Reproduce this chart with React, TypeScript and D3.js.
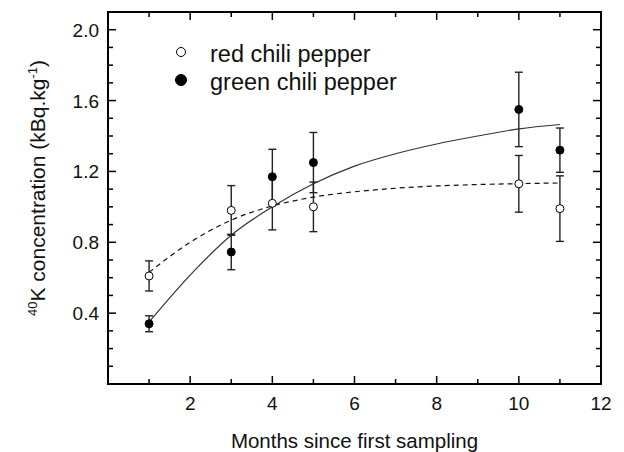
import { useEffect, useRef } from 'react'
import * as d3 from 'd3'

// months where samples were taken
const months = [1, 3, 4, 5, 10, 11]
const redValues = [0.61, 0.98, 1.02, 1.0, 1.13, 0.99]
const redErrors = [0.085, 0.14, 0.15, 0.14, 0.16, 0.185]
const greenValues = [0.34, 0.745, 1.17, 1.25, 1.55, 1.32]
const greenErrors = [0.045, 0.1, 0.155, 0.17, 0.21, 0.125]

// fitted curves
const fitMonths = [1, 2, 3, 4, 5, 6, 7, 8, 9, 10, 11]
const redFit = [0.63, 0.8, 0.925, 1.005, 1.055, 1.085, 1.105, 1.118, 1.126, 1.131, 1.135]
const greenFit = [0.35, 0.615, 0.84, 1.0, 1.13, 1.23, 1.3, 1.355, 1.4, 1.44, 1.465]

const xTicks = [2, 4, 6, 8, 10, 12]
const yTicks = [0.4, 0.8, 1.2, 1.6, 2.0]

const FONT = "'Liberation Sans', Arial, Helvetica, sans-serif"

export default function App() {
  const ref = useRef<SVGSVGElement>(null)

  useEffect(() => {
    const W = 624, H = 452
    const margin = { top: 12, right: 23, bottom: 68, left: 108 }
    const width = W - margin.left - margin.right
    const height = H - margin.top - margin.bottom

    const root = d3.select(ref.current)
    root.selectAll('*').remove()

    const svg = root.append('g').attr('transform', `translate(${margin.left},${margin.top})`)

    const x = d3.scaleLinear().domain([0, 12]).range([0, width])
    const y = d3.scaleLinear().domain([0, 2.1]).range([height, 0])

    const minorX = d3.range(1, 12, 2)
    const minorY = d3.range(1, 21).map(d => d / 10).filter(d => !yTicks.some(t => Math.abs(t - d) < 1e-6))

    // ticks on all four sides, pointing inward
    const tickG = svg.append('g').attr('stroke', '#000').attr('stroke-width', 1.5)
    const xt = [...xTicks.filter(d => d < 12).map(d => ({ v: d, len: 8 })), ...minorX.map(d => ({ v: d, len: 5 }))]
    xt.forEach(t => {
      tickG.append('line').attr('x1', x(t.v)).attr('x2', x(t.v)).attr('y1', height).attr('y2', height - t.len)
      tickG.append('line').attr('x1', x(t.v)).attr('x2', x(t.v)).attr('y1', 0).attr('y2', t.len)
    })
    const yt = [...yTicks.map(d => ({ v: d, len: 8 })), ...minorY.map(d => ({ v: d, len: 5 }))]
    yt.forEach(t => {
      tickG.append('line').attr('x1', 0).attr('x2', t.len).attr('y1', y(t.v)).attr('y2', y(t.v))
      tickG.append('line').attr('x1', width).attr('x2', width - t.len).attr('y1', y(t.v)).attr('y2', y(t.v))
    })

    svg.append('rect')
      .attr('width', width).attr('height', height)
      .attr('fill', 'none').attr('stroke', '#000').attr('stroke-width', 2)

    // tick labels
    svg.append('g').selectAll('text').data(xTicks).enter().append('text')
      .attr('x', d => x(d)).attr('y', height + 26)
      .attr('text-anchor', 'middle')
      .attr('font-family', FONT).attr('font-size', 19).attr('fill', '#111')
      .text(d => d)
    svg.append('g').selectAll('text').data(yTicks).enter().append('text')
      .attr('x', -9).attr('y', d => y(d) + 7)
      .attr('text-anchor', 'end')
      .attr('font-family', FONT).attr('font-size', 19).attr('fill', '#111')
      .text(d => d.toFixed(1))

    // fitted curves
    const line = d3.line<[number, number]>().x(d => x(d[0])).y(d => y(d[1])).curve(d3.curveMonotoneX)
    svg.append('path')
      .attr('d', line(fitMonths.map((m, i) => [m, greenFit[i]] as [number, number])))
      .attr('fill', 'none').attr('stroke', '#333').attr('stroke-width', 1.2)
    svg.append('path')
      .attr('d', line(fitMonths.map((m, i) => [m, redFit[i]] as [number, number])))
      .attr('fill', 'none').attr('stroke', '#111').attr('stroke-width', 1.2)
      .attr('stroke-dasharray', '5,4')

    // error bars and points
    const series = [
      { values: greenValues, errors: greenErrors, fill: '#000' },
      { values: redValues, errors: redErrors, fill: '#fff' },
    ]
    series.forEach(s => {
      const g = svg.append('g').attr('stroke', '#222').attr('stroke-width', 1.4)
      months.forEach((m, i) => {
        const lo = y(s.values[i] - s.errors[i])
        const hi = y(s.values[i] + s.errors[i])
        g.append('line').attr('x1', x(m)).attr('x2', x(m)).attr('y1', lo).attr('y2', hi)
        g.append('line').attr('x1', x(m) - 4).attr('x2', x(m) + 4).attr('y1', lo).attr('y2', lo)
        g.append('line').attr('x1', x(m) - 4).attr('x2', x(m) + 4).attr('y1', hi).attr('y2', hi)
      })
    })
    series.forEach(s => {
      svg.append('g').selectAll('circle').data(months).enter().append('circle')
        .attr('cx', d => x(d)).attr('cy', (d, i) => y(s.values[i]))
        .attr('r', 4)
        .attr('fill', s.fill).attr('stroke', '#000').attr('stroke-width', 1)
    })

    // legend
    const legend = [
      { label: 'red chili pepper', fill: '#fff', r: 4.5, cy: 52 },
      { label: 'green chili pepper', fill: '#000', r: 5.5, cy: 80 },
    ]
    legend.forEach(l => {
      root.append('circle').attr('cx', 181).attr('cy', l.cy).attr('r', l.r)
        .attr('fill', l.fill).attr('stroke', '#000').attr('stroke-width', 1)
      root.append('text').attr('x', 210).attr('y', l.cy + 10)
        .attr('font-family', FONT).attr('font-size', 23.5).attr('fill', '#111')
        .text(l.label)
    })

    // axis titles
    root.append('text')
      .attr('x', margin.left + width / 2).attr('y', 448)
      .attr('text-anchor', 'middle')
      .attr('font-family', FONT).attr('font-size', 20.5).attr('fill', '#111')
      .text('Months since first sampling')

    const yl = root.append('text')
      .attr('transform', 'translate(45,188) rotate(-90)')
      .attr('text-anchor', 'middle')
      .attr('font-family', FONT).attr('font-size', 21).attr('fill', '#111')
    yl.append('tspan').attr('font-size', 13).attr('dy', -8).text('40')
    yl.append('tspan').attr('dy', 8).text('K concentration (kBq.kg')
    yl.append('tspan').attr('font-size', 13).attr('dy', -8).text('-1')
    yl.append('tspan').attr('dy', 8).text(')')
  }, [])

  return (
    <svg ref={ref} width={624} height={452} style={{ position: 'absolute', left: 0, top: 0, background: '#fff' }} />
  )
}
